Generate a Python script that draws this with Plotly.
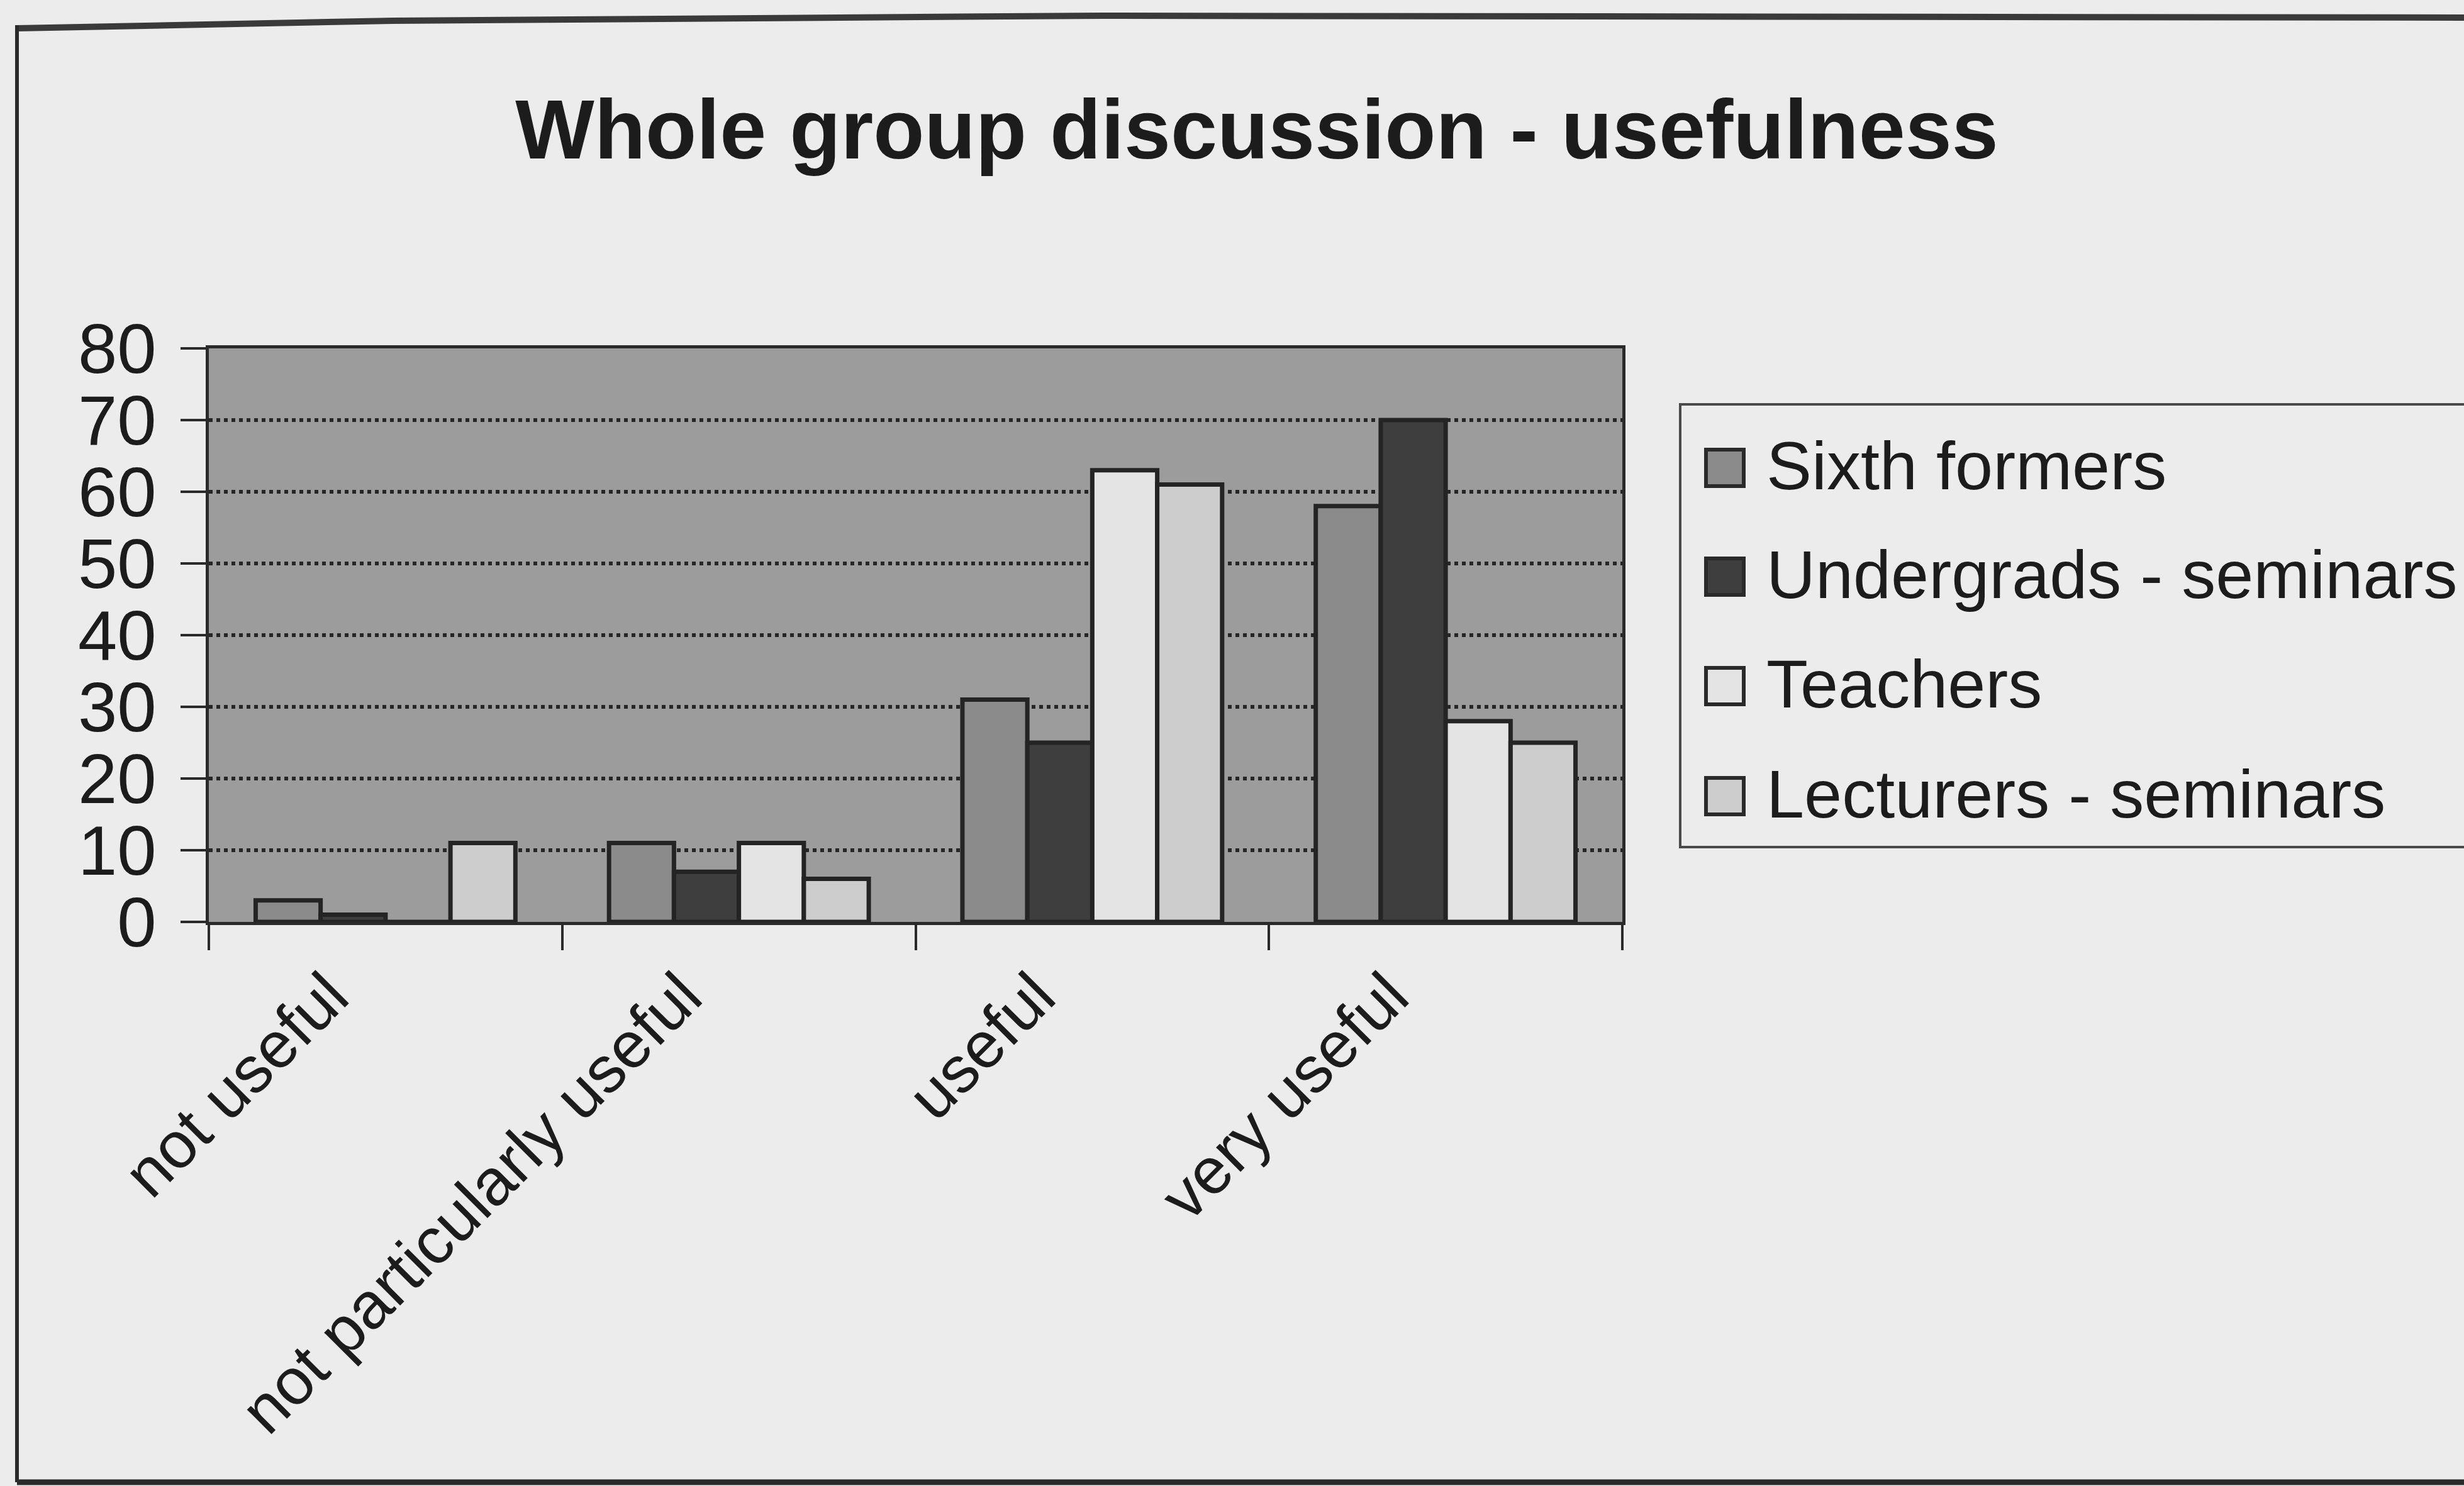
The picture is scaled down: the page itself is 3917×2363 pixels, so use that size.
import plotly.graph_objects as go

# Survey responses: how useful each group found whole group discussion
categories = ["not useful", "not particularly useful", "useful", "very useful"]
sixth_formers = [3, 11, 31, 58]
undergrads_seminars = [1, 7, 25, 70]
teachers = [0, 11, 63, 28]
lecturers_seminars = [11, 6, 61, 25]

series_names = ["Sixth formers", "Undergrads - seminars", "Teachers", "Lecturers - seminars"]
series_values = [sixth_formers, undergrads_seminars, teachers, lecturers_seminars]
series_colors = ["#8b8b8b", "#3e3e3e", "#e4e4e4", "#cdcdcd"]

y_ticks = [0, 10, 20, 30, 40, 50, 60, 70, 80]

W, H = 3917, 2363
PLOT_L, PLOT_R, PLOT_T, PLOT_B = 332, 2579, 554, 1466
FONT = "Arial, Liberation Sans, Helvetica, sans-serif"
INK = "#1c1c1c"
PAGE = "#ececec"


# convert canvas pixels to paper (plot-area) fractions
def fx(px):
    return (px - PLOT_L) / (PLOT_R - PLOT_L)


def fy(py):
    return (PLOT_B - py) / (PLOT_B - PLOT_T)


fig = go.Figure()
for name, vals, col in zip(series_names, series_values, series_colors):
    fig.add_trace(go.Bar(
        name=name, x=categories, y=vals,
        marker=dict(color=col, line=dict(color="#242424", width=7)),
        showlegend=False,
    ))

shapes = []
annotations = []

# outer chart frame (left, top, bottom edges)
shapes.append(dict(type="path", xref="paper", yref="paper",
                   path=f"M {fx(27)},{fy(45)} L {fx(625)},{fy(33)} L {fx(1750)},{fy(25)} L {fx(3930)},{fy(28)}",
                   line=dict(color="#3a3a3a", width=10)))
shapes.append(dict(type="line", xref="paper", yref="paper",
                   x0=fx(27), x1=fx(27), y0=fy(40), y1=fy(2357),
                   line=dict(color="#2a2a2a", width=6)))
shapes.append(dict(type="line", xref="paper", yref="paper",
                   x0=fx(27), x1=fx(3930), y0=fy(2357), y1=fy(2357),
                   line=dict(color="#2a2a2a", width=9)))

# legend box
shapes.append(dict(type="rect", xref="paper", yref="paper",
                   x0=fx(2671), x1=fx(3960), y0=fy(643), y1=fy(1347),
                   line=dict(color="#4a4a4a", width=4), fillcolor=PAGE, layer="below"))
legend_centers = [744, 917, 1091, 1266]
for name, col, cy in zip(series_names, series_colors, legend_centers):
    shapes.append(dict(type="rect", xref="paper", yref="paper",
                       x0=fx(2712), x1=fx(2772), y0=fy(cy - 29), y1=fy(cy + 29),
                       line=dict(color="#2a2a2a", width=6), fillcolor=col))
    annotations.append(dict(xref="paper", yref="paper", x=fx(2806), y=fy(cy - 4),
                            xanchor="left", yanchor="middle", showarrow=False,
                            text=name, font=dict(family=FONT, size=108, color=INK)))

fig.update_layout(
    width=W, height=H,
    margin=dict(l=PLOT_L, r=W - PLOT_R, t=PLOT_T, b=H - PLOT_B, pad=0),
    paper_bgcolor=PAGE,
    plot_bgcolor="#9c9c9c",
    barmode="group",
    bargap=0.265,
    bargroupgap=0,
    title=dict(text="<b>Whole group discussion - usefulness</b>",
               x=1998 / W, xref="container", xanchor="center",
               y=1 - 205 / H, yref="container", yanchor="middle",
               font=dict(family=FONT, size=133, color=INK)),
    xaxis=dict(
        type="category", tickson="boundaries", ticks="outside", ticklen=40,
        tickwidth=4, tickcolor="#2a2a2a", tickangle=-45,
        ticklabelshift=-90, ticklabelstandoff=10,
        showline=True, linecolor="#2a2a2a", linewidth=5, mirror=True,
        showgrid=False,
        tickfont=dict(family=FONT, size=104, color=INK),
    ),
    yaxis=dict(
        range=[0, 80], tickvals=y_ticks, ticks="outside", ticklen=40,
        tickwidth=4, tickcolor="#2a2a2a", ticklabelstandoff=16,
        showline=True, linecolor="#2a2a2a", linewidth=5, mirror=True,
        showgrid=True, gridcolor="#262626", gridwidth=6, griddash="dot",
        zeroline=False,
        tickfont=dict(family=FONT, size=112, color=INK),
    ),
    shapes=shapes,
    annotations=annotations,
    font=dict(family=FONT, color=INK),
)

fig.write_html("out.html")
